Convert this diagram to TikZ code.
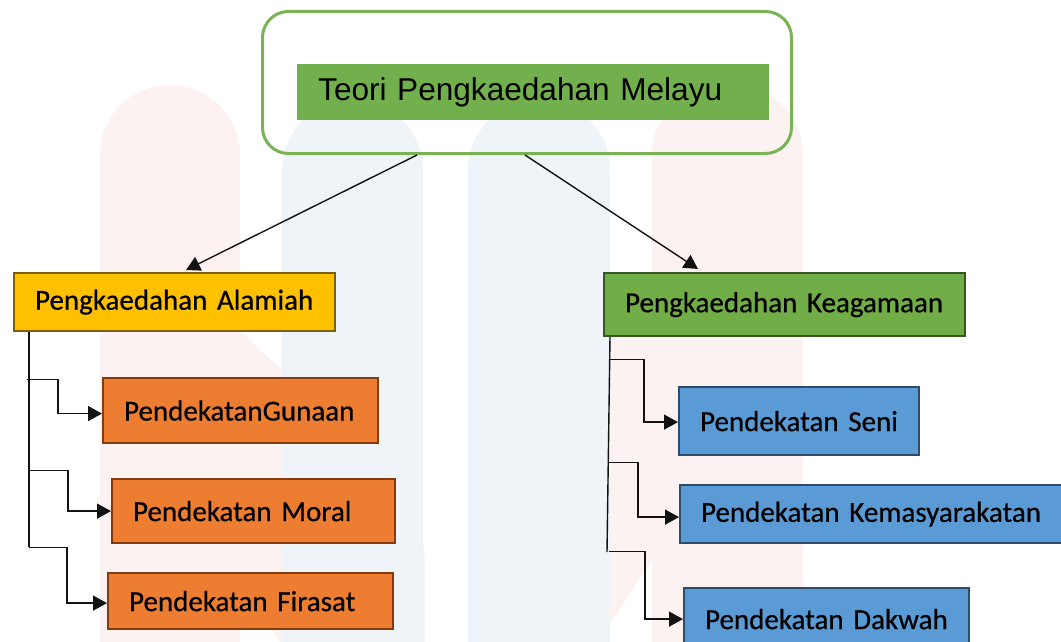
\documentclass[tikz,border=0pt]{standalone}
\usepackage{fontspec}
\setmainfont[FakeBold=0.5]{Carlito}
\newfontfamily\arialfont{Liberation Sans}
\newfontfamily\carlitofont[FakeBold=0.6]{Carlito}
\usetikzlibrary{arrows.meta,calc,positioning}
\definecolor{wmpink}{HTML}{FDF2F2}
\definecolor{wmblue}{HTML}{EFF4F8}
\definecolor{titlegreen}{HTML}{72AF4D}
\definecolor{framegreen}{HTML}{7AB356}
\definecolor{ygold}{HTML}{FFC000}
\definecolor{ygoldline}{HTML}{7F6000}
\definecolor{kgreen}{HTML}{70AD47}
\definecolor{kgreenline}{HTML}{375623}
\definecolor{oorange}{HTML}{ED7D31}
\definecolor{oorangeline}{HTML}{843C0C}
\definecolor{bblue}{HTML}{5B9BD5}
\definecolor{bblueline}{HTML}{2F4B6B}
\tikzset{
  px/.style={x=1pt,y=-1pt},
  boxbase/.style={rectangle, line width=2.2pt, inner xsep=21pt, inner ysep=0pt, align=left, anchor=north west,
     font=\carlitofont\fontsize{29}{32}\selectfont, text=black},
  goldbox/.style={boxbase, fill=ygold, draw=ygoldline},
  greenbox/.style={boxbase, fill=kgreen, draw=kgreenline},
  orangebox/.style={boxbase, fill=oorange, draw=oorangeline},
  bluebox/.style={boxbase, fill=bblue, draw=bblueline},
  arr/.style={line width=1.4pt, draw=black!93, -{Triangle[length=14pt,width=15pt]}},
  trunk/.style={line width=1.4pt, draw=black!93},
}
\begin{document}
\begin{tikzpicture}[px]
\useasboundingbox (0,0) rectangle (1061,642);
% faint watermark
\begin{scope}
\clip (0,0) rectangle (1061,642);
\fill[wmpink] (100,380) -- (240,330) .. controls (330,420) and (420,480) .. (425,560) -- (425,700) -- (320,700) -- cycle;
\fill[wmpink] (803,330) -- (652,300) .. controls (560,380) and (480,440) .. (470,560) -- (470,700) -- (560,700) -- cycle;
\fill[wmpink, rounded corners=70pt] (100,85) rectangle (240,760);
\fill[wmblue, rounded corners=70pt] (282,100) rectangle (423,760);
\fill[wmblue, rounded corners=70pt] (468,100) rectangle (610,760);
\fill[wmpink, rounded corners=70pt] (652,85) rectangle (803,760);
\end{scope}

% top
\node[draw=framegreen, line width=3pt, rounded corners=26pt, minimum width=529pt, minimum height=142pt,
      anchor=north west, inner sep=0pt] (top) at (261,10) {};
\node[fill=titlegreen, anchor=north west, inner xsep=21pt, inner ysep=0pt, text width=430pt, align=left,
      minimum height=56pt, font=\arialfont\fontsize{31.6}{36}\selectfont] (title) at (297,64) {Teori Pengkaedahan Melayu};

% level 2
\node[goldbox, minimum height=58pt, text width={321pt-42pt}] (alam) at (13,272) {Pengkaedahan Alamiah};
\node[greenbox, minimum height=63pt, text width={361pt-42pt}] (agama) at (603,272) {Pengkaedahan Keagamaan};

% left children
\node[orangebox, minimum height=65pt, text width={275pt-42pt}] (gun) at (102,377) {PendekatanGunaan};
\node[orangebox, minimum height=64pt, text width={283pt-42pt}] (moral) at (111,478) {Pendekatan Moral};
\node[orangebox, minimum height=56pt, text width={285pt-42pt}] (firasat) at (107,572) {Pendekatan Firasat};

% right children
\node[bluebox, minimum height=68pt, text width={240pt-42pt}] (seni) at (678,386) {Pendekatan Seni};
\node[bluebox, minimum height=58pt, text width={395pt-42pt}] (masy) at (679,484) {Pendekatan Kemasyarakatan};
\node[bluebox, minimum height=62pt, text width={285pt-42pt}] (dakwah) at (683,587) {Pendekatan Dakwah};

% main arrows
\draw[arr] ($(top.south west)+(156,0)$) -- ($(alam.north west)+(173,-2)$);
\draw[arr] ($(top.south west)+(264,0)$) -- ($(agama.north west)+(95,-3)$);

% left tree
\coordinate (lt) at ($(alam.south west)+(16,0)$);
\coordinate (lb) at ($(lt)+(0,215)$);
\draw[trunk] (lt) -- (lb);
\draw[arr] ($(lt)+(-2,47)$) -- ++(31,0) |- ($(gun.west)+(0,3)$);
\draw[arr] ($(lt)+(0,138)$) -- ++(39,0) |- (moral.west);
\draw[arr] (lb) -- ++(38,0) |- ($(firasat.west)+(0,2)$);

% right tree
\coordinate (rt) at ($(agama.south west)+(7,0)$);
\coordinate (rb) at ($(rt)+(-3,215)$);
\draw[trunk] (rt) -- (rb);
\draw[arr] ($(rt)+(-1,22)$) -- ++(35,0) |- ($(seni.west)+(0,1)$);
\draw[arr] ($(rt)+(-2,125)$) -- ++(30,0) |- ($(masy.west)+(0,3)$);
\draw[arr] ($(rt)+(-1,214)$) -- ++(36,0) |- (dakwah.west);
\end{tikzpicture}
\end{document}
